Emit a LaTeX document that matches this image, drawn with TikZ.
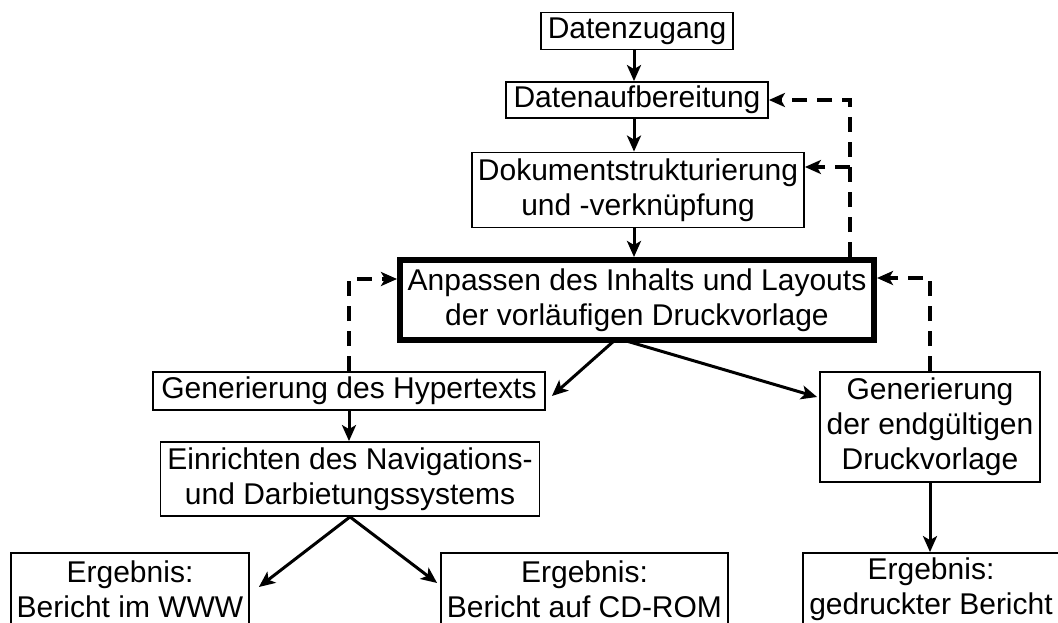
\documentclass[tikz,border=0pt]{standalone}
\usepackage{fontspec}
\setmainfont{Liberation Sans}
\usetikzlibrary{arrows.meta,calc}
\begin{document}
\begin{tikzpicture}[x=1pt,y=-1pt,
  box/.style={draw,line width=1.8pt,inner sep=0pt,align=center,
    font=\fontsize{30}{35}\selectfont},
  thickbox/.style={box,line width=6pt},
  flow/.style={line width=3pt,-{Stealth[length=16pt,width=14pt,inset=4pt]}},
  back/.style={line width=4pt,dash pattern=on 15pt off 10pt,
    -{Stealth[length=16pt,width=14pt,inset=4pt]}}]
\useasboundingbox (0,0) rectangle (1058,623);
\clip (0,0) rectangle (1058,623);
\node[box,minimum width=192pt,minimum height=37pt] (dz) at (637,31) {Datenzugang};
\node[box,minimum width=262pt,minimum height=36pt] (da) at (637,100) {Datenaufbereitung};
\node[box,minimum width=332pt,minimum height=75pt] (dok) at (638,190) {Dokumentstrukturierung\\und -verknüpfung};
\node[thickbox,minimum width=474pt,minimum height=80pt] (anp) at (637,300) {Anpassen des Inhalts und Layouts\\der vorläufigen Druckvorlage};
\node[box,minimum width=392pt,minimum height=38pt] (hyp) at (349,391) {Generierung des Hypertexts};
\node[box,minimum width=379pt,minimum height=74pt] (ein) at (350,479) {Einrichten des Navigations-\\und Darbietungssystems};
\node[box,minimum width=220pt,minimum height=110pt] (gen) at (930,427) {Generierung\\der endgültigen\\Druckvorlage};
\node[box,minimum width=238pt,minimum height=72pt] (www) at (130,589) {Ergebnis:\\Bericht im WWW};
\node[box,minimum width=287pt,minimum height=72pt] (cd) at (584.5,589) {Ergebnis:\\Bericht auf CD-ROM};
\node[box,minimum width=256pt,minimum height=72pt] (gdr) at (931,589) {Ergebnis:\\gedruckter Bericht};
% solid flow
\draw[flow] ([xshift=-3pt]dz.south) -- ([xshift=-3pt]dz.south |- da.north);
\draw[flow] ([xshift=-3pt]da.south) -- ([xshift=-3pt]da.south |- dok.north);
\draw[flow] ([xshift=-4pt]dok.south) -- ([xshift=-4pt]dok.south |- anp.north);
\draw[flow] ([xshift=-22pt,yshift=3pt]anp.south) -- ([xshift=6pt,yshift=-5pt]hyp.east);
\draw[flow] ([xshift=-14pt,yshift=3pt]anp.south) -- ([xshift=-2pt,yshift=30pt]gen.west);
\draw[flow] (hyp.south) -- (hyp.south |- ein.north);
\draw[flow] (ein.south) -- ([xshift=9pt,yshift=2pt]www.east);
\draw[flow] (ein.south) -- ([xshift=-3pt,yshift=6pt]cd.west);
\draw[flow] (gen.south) -- (gen.south |- gdr.north);
% dashed feedback
\coordinate (rt) at ([xshift=213pt]anp.north);
\draw[back] (rt) |- (da.east);
\draw[back] (rt |- 0,167) -- (dok.east |- 0,167);
\draw[back] (gen.north) |- ([yshift=22pt]anp.east);
\draw[back] (hyp.north) |- ([yshift=21pt]anp.west);
\end{tikzpicture}
\end{document}
